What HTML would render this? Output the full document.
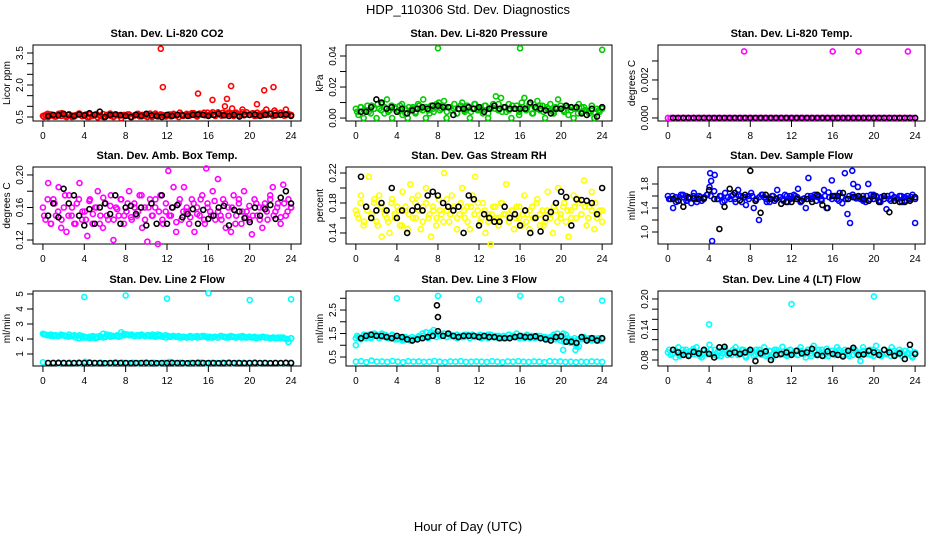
<!DOCTYPE html>
<html><head><meta charset="utf-8"><style>
body{margin:0;background:#fff}
svg{display:block;font-family:"Liberation Sans",sans-serif}
</style></head><body>
<svg id="c" width="936" height="540" viewBox="0 0 936 540">
<rect width="936" height="540" fill="#fff"/>
<text x="468" y="14" text-anchor="middle" font-size="13">HDP_110306  Std. Dev. Diagnostics</text>
<text x="468" y="531" text-anchor="middle" font-size="13">Hour of Day (UTC)</text>
</svg>
<script>
// ---- data ----
const hourTicks=[0,4,8,12,16,20,24];
const co2Col=[0.55,0.6,0.5,0.62,0.58,0.52,0.65,0.55,0.6,0.5,0.63,0.57,0.52,0.6,0.66,0.54,
0.58,0.5,0.62,0.55,0.6,0.48,0.57,0.64,0.52,0.6,0.55,0.5,0.62,0.58,0.45,0.6,
0.56,0.62,0.5,0.58,0.64,0.53,0.6,0.55,0.5,0.66,0.57,0.6,0.52,0.62,0.58,0.55,
0.6,0.53,0.65,0.57,0.5,0.62,0.58,0.6,0.55,0.68,0.6,0.52,0.66,0.62,0.58,0.7,
0.6,0.72,0.55,0.65,0.6,0.7,0.58,0.66,0.62,0.55,0.7,0.6,0.64,0.58,0.72,0.6,
0.66,0.55,0.7,0.62,0.58,0.68,0.6,0.65,0.55,0.7,0.62,0.6,0.66,0.58,0.64,0.6];
const co2Col2=[0.5,0.65,0.57,0.52,0.6,0.68,0.54,0.6,0.5,0.58,0.66,0.55,0.62,0.5,0.57,0.64,0.55,0.5,0.6,0.66,0.52,0.58,0.6,0.55,
0.62,0.5,0.57,0.65,0.53,0.6,0.58,0.5,0.66,0.55,0.6,0.52,0.62,0.58,0.6,0.7,0.55,0.65,0.6,0.68,0.56,0.62,0.7,0.58,
0.66,0.6,0.72,0.56,0.64,0.7,0.6,0.66,0.58,0.72,0.62,0.6,0.68,0.56,0.64,0.7,0.6,0.66,0.58,0.62,0.7,0.56,0.64,0.58];
const co2Blk=[0.55,0.6,0.58,0.65,0.6,0.55,0.62,0.58,0.68,0.6,0.75,0.5,0.6,0.62,0.58,0.55,0.5,0.6,0.55,0.65,0.58,0.55,0.5,0.6,0.55,0.6,0.58,0.55,0.6,0.62,0.6,0.55,0.6,0.65,0.58,0.55,0.6,0.52,0.6,0.6,0.62,0.55,0.6,0.65,0.58,0.6,0.62,0.55];
const co2OutH=[11.4,11.6,15,16.4,17.6,17.8,18.2,18.3,19.3,20.7,21.4,21.6,22.3,22.4,23.5];
const co2OutV=[3.7,1.9,1.6,1.3,1.0,1.35,1.95,0.9,0.85,1.1,1.75,0.85,1.9,0.8,0.85];

const presCol=[0.006,0.002,0.007,0,0.005,0.004,0.008,0.006,0,0.006,0.009,0.003,0.012,0.005,0,0.007,0.004,0.008,0.002,0.006,0,0.005,0.007,0.003,
0.009,0.006,0.012,0,0.005,0.008,0.004,0.007,0.01,0.006,0.011,0,0.007,0.005,0.009,0.003,0.006,0.01,0.004,0.008,0,0.006,0.009,0.005,
0.007,0.003,0.008,0,0.006,0.009,0.014,0.005,0.013,0.007,0.004,0.009,0,0.006,0.008,0.002,0.01,0.013,0.006,0.009,0.003,0.007,0.011,0.005,
0.008,0,0.006,0.009,0.004,0.007,0.012,0.006,0.005,0.008,0.002,0.007,0,0.006,0.009,0.004,0.007,0.005,0.003,0.008,0,0.006,0.004,0.007];
const presCol2=[0.004,0.007,0.005,0.008,0.003,0.006,0.009,0.005,0.007,0.004,0.008,0.006,0.005,0.009,0.003,0.007,0.006,0.004,0.008,0.005,0.007,0.003,0.006,0.009,
0.005,0.008,0.004,0.007,0.006,0.003,0.008,0.005,0.007,0.004,0.009,0.006,0.005,0.008,0.003,0.007,0.006,0.009,0.004,0.007,0.005,0.008,0.006,0.004,
0.007,0.005,0.009,0.003,0.006,0.008,0.004,0.007,0.005,0.003,0.006,0.008,0.004,0.007,0.005,0.006,0.003,0.007,0.005,0.004,0.006,0.003,0.005,0.006];
const presBlk=[0.004,0.004,0.007,0.012,0.01,0.006,0.007,0.004,0.006,0.003,0.005,0.006,0.007,0.006,0.008,0.008,0.007,0.007,0.002,0.006,0.006,0.007,0.006,0.007,0.004,0.006,0.008,0.006,0.007,0.006,0.006,0.006,0.006,0.01,0.007,0.006,0.005,0.003,0.006,0.006,0.008,0.007,0.007,0.003,0.002,0.006,0.001,0.007];
const presOutH=[8,16,24];
const presOutV=[0.045,0.045,0.044];

const tempCol=[0,0,0,0,0,0,0,0,0,0,0,0,0,0,0,0,0,0,0,0,0,0,0,0,0,0,0,0,0,0,0,0,0,0,0,0,0,0,0,0,0,0,0,0,0,0,0,0,
0,0,0,0,0,0,0,0,0,0,0,0,0,0,0,0,0,0,0,0,0,0,0,0,0,0,0,0,0,0,0,0,0,0,0,0,0,0,0,0,0,0,0,0,0,0,0,0];
const tempBlk=[0,0,0,0,0,0,0,0,0,0,0,0,0,0,0,0,0,0,0,0,0,0,0,0,0,0,0,0,0,0,0,0,0,0,0,0,0,0,0,0,0,0,0,0,0,0,0,0];
const tempOutH=[7.4,16,18.5,23.3];
const tempOutV=[0.0035,0.0035,0.0035,0.0035];

const ambCol=[0.16,0.145,0.19,0.14,0.17,0.15,0.185,0.135,0.16,0.13,0.175,0.15,0.14,0.165,0.19,0.145,
0.155,0.125,0.17,0.14,0.16,0.18,0.15,0.135,0.165,0.145,0.175,0.12,0.16,0.15,0.17,0.14,
0.155,0.18,0.145,0.165,0.15,0.175,0.135,0.16,0.118,0.17,0.15,0.16,0.115,0.175,0.14,0.155,
0.205,0.15,0.185,0.13,0.165,0.145,0.185,0.155,0.14,0.17,0.13,0.16,0.15,0.175,0.14,0.165,
0.155,0.18,0.145,0.195,0.15,0.17,0.135,0.16,0.13,0.175,0.15,0.165,0.14,0.18,0.155,0.145,
0.127,0.17,0.15,0.16,0.135,0.165,0.145,0.175,0.185,0.155,0.165,0.14,0.188,0.15,0.17,0.16];
const ambCol2=[0.15,0.17,0.14,0.165,0.155,0.145,0.175,0.15,0.16,0.14,0.17,0.155,0.145,0.168,0.152,0.16,0.14,0.172,0.15,0.162,0.145,0.158,0.17,0.15,
0.165,0.148,0.16,0.155,0.175,0.145,0.16,0.15,0.17,0.155,0.145,0.165,0.15,0.16,0.142,0.17,0.155,0.16,0.148,0.165,0.152,0.17,0.145,0.16,
0.15,0.168,0.155,0.145,0.165,0.15,0.16,0.14,0.17,0.155,0.148,0.162,0.15,0.165,0.145,0.16,0.155,0.17,0.15,0.16,0.148,0.165,0.155,0.16];
const ambBlk=[0.15,0.165,0.148,0.183,0.165,0.175,0.15,0.138,0.158,0.14,0.16,0.165,0.152,0.175,0.14,0.16,0.162,0.152,0.16,0.138,0.165,0.14,0.175,0.14,0.16,0.163,0.148,0.152,0.158,0.14,0.157,0.146,0.15,0.16,0.162,0.138,0.157,0.155,0.147,0.142,0.16,0.15,0.158,0.163,0.146,0.172,0.18,0.165];
const ambOutH=[15.8];
const ambOutV=[0.208];

const rhCol=[0.17,0.16,0.19,0.15,0.175,0.215,0.165,0.18,0.155,0.19,0.135,0.17,0.16,0.14,0.185,0.165,
0.175,0.15,0.195,0.17,0.145,0.205,0.16,0.18,0.19,0.145,0.175,0.2,0.16,0.135,0.17,0.15,
0.185,0.165,0.22,0.17,0.155,0.19,0.175,0.145,0.165,0.2,0.16,0.175,0.145,0.19,0.215,0.17,
0.155,0.18,0.14,0.165,0.125,0.175,0.16,0.15,0.18,0.165,0.205,0.155,0.17,0.145,0.175,0.16,
0.15,0.19,0.165,0.145,0.175,0.16,0.185,0.15,0.17,0.155,0.195,0.165,0.14,0.17,0.2,0.16,
0.175,0.155,0.135,0.17,0.19,0.16,0.18,0.165,0.21,0.15,0.175,0.195,0.145,0.16,0.17,0.155];
const rhCol2=[0.165,0.18,0.155,0.17,0.16,0.185,0.15,0.175,0.165,0.155,0.18,0.16,0.17,0.15,0.175,0.165,0.185,0.16,0.17,0.155,0.18,0.165,0.175,0.16,
0.17,0.155,0.185,0.165,0.175,0.16,0.18,0.17,0.155,0.175,0.165,0.18,0.16,0.17,0.155,0.165,0.175,0.16,0.18,0.165,0.155,0.17,0.16,0.175,
0.165,0.155,0.17,0.16,0.18,0.165,0.15,0.17,0.16,0.175,0.155,0.165,0.18,0.17,0.16,0.175,0.185,0.165,0.175,0.16,0.17,0.18,0.165,0.17];
const rhBlk=[0.215,0.175,0.16,0.17,0.18,0.17,0.2,0.16,0.17,0.14,0.17,0.175,0.17,0.19,0.195,0.19,0.18,0.175,0.17,0.175,0.14,0.19,0.185,0.15,0.165,0.16,0.155,0.155,0.175,0.16,0.165,0.15,0.17,0.14,0.16,0.142,0.16,0.168,0.18,0.195,0.188,0.15,0.185,0.184,0.183,0.18,0.165,0.2];
const rhOutH=[];
const rhOutV=[];

const sampCol=[1.6,1.55,1.4,1.58,1.52,1.62,1.5,1.6,1.56,1.48,1.65,1.55,1.6,1.52,1.58,1.62,1.75,0.85,1.95,1.55,1.6,1.5,1.65,1.58,
1.55,1.62,1.5,1.7,1.6,1.58,1.45,1.6,1.65,1.4,1.55,1.2,1.62,1.58,1.5,1.55,1.6,1.52,1.7,1.58,1.55,1.62,1.5,1.6,
1.56,1.6,1.72,1.5,1.55,1.4,1.9,1.6,1.58,1.52,1.6,1.55,1.7,1.4,1.58,1.86,1.6,1.55,1.65,1.48,1.98,1.3,1.15,1.62,
1.58,1.75,1.55,1.6,1.5,1.8,1.62,1.55,1.6,1.52,1.58,1.6,1.38,1.55,1.62,1.58,1.55,1.6,1.5,1.58,1.6,1.55,1.62,1.15];
const sampCol2=[1.55,1.6,1.5,1.58,1.62,1.52,1.56,1.6,1.5,1.58,1.55,1.62,1.6,1.68,1.55,1.6,1.52,1.58,1.6,1.55,1.62,1.5,1.58,1.55,
1.6,1.52,1.58,1.62,1.55,1.5,1.6,1.56,1.58,1.52,1.6,1.55,1.62,1.58,1.5,1.56,1.6,1.55,1.62,1.58,1.52,1.6,1.66,1.55,
1.6,1.52,1.58,1.55,1.6,1.62,1.56,1.58,1.52,1.6,1.55,1.62,1.58,1.5,1.55,1.6,1.52,1.58,1.55,1.6,1.52,1.56,1.58,1.55];
const sampBlk=[1.55,1.52,1.42,1.58,1.56,1.55,1.56,1.7,1.55,1.05,1.42,1.72,1.65,1.53,1.62,2.02,1.52,1.32,1.62,1.55,1.55,1.47,1.5,1.5,1.55,1.52,1.55,1.5,1.62,1.45,1.4,1.6,1.6,1.65,1.55,1.58,1.6,1.55,1.52,1.6,1.5,1.6,1.33,1.52,1.5,1.5,1.52,1.58];
const sampOutH=[4.1,4.2,17.9,18];
const sampOutV=[1.98,1.85,2.02,1.8];

const l2Hi=[2.35,2.3,2.25,2.3,2.2,2.25,2.2,2.3,2.25,2.2,2.3,2.2,2.25,2.2,2.25,2.2,2.15,2.1,2.05,2.1,2.05,2.1,2.15,2.1,
2.15,2.2,2.15,2.2,2.2,2.15,2.45,2.35,2.3,2.25,2.3,2.2,2.25,2.2,2.25,2.2,2.25,2.2,2.3,2.25,2.3,2.25,2.2,2.25,
2.2,2.15,2.2,2.15,2.2,2.1,2.15,2.1,2.15,2.1,2.15,2.2,2.15,2.2,2.15,2.1,2.15,2.1,2.15,2.1,2.2,2.15,2.1,2.15,
2.2,2.15,2.1,2.15,2.1,2.15,2.1,2.15,2.1,2.15,2.1,2.1,2.15,2.1,2.1,2.05,2.1,2.05,2.1,2.05,2.1,2.0,1.8,2.05];
const l2Hi2=[2.3,2.25,2.2,2.25,2.2,2.25,2.2,2.15,2.2,2.1,2.05,2.1,2.1,2.15,2.2,2.15,2.2,2.35,2.3,2.25,2.2,2.25,2.2,2.25,
2.3,2.25,2.2,2.25,2.3,2.2,2.25,2.2,2.15,2.2,2.15,2.1,2.15,2.2,2.15,2.1,2.15,2.1,2.2,2.15,2.1,2.15,2.2,2.15,
2.1,2.15,2.1,2.2,2.15,2.1,2.15,2.1,2.15,2.2,2.1,2.15,2.1,2.05,2.1,2.15,2.1,2.05,2.1,2.05,2.1,2.05,2.0,2.05];
const l2Lo=[0.45,0.4,0.42,0.38,0.41,0.43,0.4,0.39,0.48,0.41,0.4,0.42,0.38,0.4,0.41,0.43,0.4,0.42,0.39,0.41,0.4,0.42,0.38,0.41,0.47,0.4,0.42,0.39,0.41,0.4,0.43,0.38,0.41,0.4,0.42,0.4,0.39,0.41,0.42,0.4,0.41,0.39,0.42,0.4,0.41,0.38,0.4,0.42];
const l2Blk=[0.4,0.4,0.41,0.4,0.39,0.4,0.41,0.4,0.42,0.4,0.4,0.39,0.4,0.41,0.4,0.4,0.39,0.4,0.4,0.41,0.4,0.39,0.4,0.4,0.41,0.4,0.4,0.39,0.4,0.41,0.4,0.4,0.4,0.39,0.4,0.41,0.4,0.4,0.39,0.4,0.41,0.4,0.4,0.39,0.4,0.4,0.41,0.4];
const l2OutH=[4,8,12,16,20,24];
const l2OutV=[4.8,4.9,4.7,5.05,4.6,4.65];

const l3Hi=[1.3,1.35,1.25,1.4,1.3,1.45,1.35,1.4,1.45,1.3,1.5,1.35,1.4,1.3,1.45,1.35,1.25,1.3,1.2,1.25,1.3,1.2,1.25,1.3,
1.35,1.3,1.4,1.35,1.3,1.55,1.65,1.5,1.45,1.4,1.5,1.35,1.45,1.4,1.35,1.45,1.4,1.35,1.45,1.4,1.3,1.45,1.35,1.4,
1.45,1.35,1.4,1.3,1.45,1.35,1.4,1.3,1.35,1.4,1.3,1.45,1.35,1.4,1.5,1.35,1.4,1.3,1.45,1.35,1.4,1.3,1.35,1.4,
1.3,1.35,1.25,1.3,1.35,1.25,1.3,1.35,1.5,1.45,1.2,1.1,1.2,1.05,0.95,1.25,1.35,1.25,1.3,1.2,1.3,1.25,1.2,1.3];
const l3Hi2=[1.4,1.3,1.45,1.35,1.3,1.5,1.4,1.35,1.45,1.3,1.4,1.25,1.3,1.25,1.35,1.3,1.35,1.3,1.4,1.5,1.55,1.45,1.4,1.35,
1.45,1.4,1.35,1.45,1.4,1.3,1.4,1.35,1.45,1.4,1.35,1.4,1.3,1.35,1.45,1.4,1.35,1.4,1.3,1.35,1.45,1.4,1.35,1.3,
1.35,1.4,1.3,1.35,1.4,1.3,1.35,1.3,1.35,1.45,1.5,1.2,1.15,1.3,1.25,1.3,1.25,1.35,1.3,1.25,1.3,1.25,1.3,1.25];
const l3Lo=[0.3,0.32,0.28,0.35,0.3,0.31,0.29,0.33,0.3,0.28,0.32,0.3,0.31,0.29,0.3,0.33,0.3,0.28,0.31,0.3,0.32,0.29,0.3,0.31,0.3,0.29,0.32,0.3,0.28,0.31,0.3,0.32,0.3,0.29,0.31,0.3,0.28,0.32,0.3,0.31,0.29,0.3,0.28,0.3,0.29,0.31,0.3,0.29];
const l3Blk=[1.3,1.4,1.45,1.4,1.4,1.35,1.3,1.4,1.35,1.25,1.2,1.25,1.3,1.35,1.4,1.6,1.4,1.5,1.4,1.35,1.4,1.4,1.4,1.35,1.4,1.35,1.35,1.3,1.3,1.3,1.35,1.4,1.35,1.35,1.38,1.3,1.25,1.2,1.35,1.38,1.15,1.15,1.1,1.35,1.2,1.3,1.2,1.3];
const l3OutH=[0,4,8,12,16,20,24,20.2,21.4,21.5];
const l3OutV=[1.0,3.0,3.1,2.95,3.1,2.95,2.9,0.8,0.8,0.95];
const l3BlkOutH=[7.9,8];
const l3BlkOutV=[2.7,2.2];

const l4Col=[0.095,0.09,0.1,0.085,0.105,0.09,0.095,0.1,0.088,0.098,0.092,0.105,0.09,0.085,0.1,0.095,0.11,0.09,0.1,0.088,0.098,0.093,0.102,0.09,
0.095,0.1,0.105,0.09,0.092,0.1,0.085,0.098,0.095,0.088,0.1,0.095,0.09,0.105,0.092,0.098,0.085,0.1,0.095,0.092,0.106,0.09,0.098,0.1,
0.092,0.098,0.09,0.105,0.095,0.085,0.1,0.093,0.108,0.09,0.1,0.095,0.088,0.102,0.093,0.098,0.09,0.105,0.095,0.088,0.1,0.092,0.098,0.09,
0.1,0.095,0.078,0.105,0.092,0.098,0.09,0.1,0.108,0.095,0.088,0.1,0.092,0.098,0.105,0.09,0.095,0.1,0.088,0.098,0.092,0.1,0.085,0.095];
const l4Col2=[0.1,0.092,0.098,0.088,0.1,0.095,0.09,0.102,0.094,0.088,0.098,0.092,0.1,0.09,0.096,0.088,0.1,0.094,0.09,0.098,0.092,0.1,0.088,0.095,
0.098,0.09,0.1,0.093,0.088,0.097,0.092,0.1,0.09,0.096,0.088,0.1,0.094,0.09,0.098,0.092,0.1,0.088,0.096,0.09,0.1,0.093,0.088,0.098,
0.092,0.1,0.09,0.096,0.088,0.1,0.094,0.09,0.098,0.092,0.1,0.088,0.096,0.09,0.1,0.093,0.088,0.098,0.092,0.096,0.09,0.094,0.088,0.092];
const l4Blk=[0.1,0.095,0.09,0.088,0.096,0.093,0.1,0.092,0.085,0.105,0.106,0.093,0.095,0.092,0.095,0.1,0.078,0.093,0.097,0.08,0.09,0.092,0.095,0.09,0.098,0.093,0.095,0.102,0.09,0.088,0.097,0.092,0.09,0.087,0.098,0.104,0.09,0.091,0.098,0.095,0.09,0.1,0.095,0.088,0.093,0.082,0.11,0.092];
const l4OutH=[4,12,20];
const l4OutV=[0.15,0.19,0.205];

// ---- layout ----
const NS="http://www.w3.org/2000/svg";
const svg=document.getElementById('c');
function mk(tag,attrs,parent){const e=document.createElementNS(NS,tag);for(const k in attrs)e.setAttribute(k,attrs[k]);(parent||svg).appendChild(e);return e;}
const cols=[[33,301],[346,612],[658,925]];
const rows=[[45,121],[167,244],[291,366]];
const panels=[
 {name:'co2',title:'Stan. Dev. Li-820 CO2',yl:'Licor ppm',c:0,r:0,dom:[0.3125,3.875],ticks:[0.5,1,1.5,2,2.5,3,3.5],labs:[0.5,2.0,3.5],fmt:1,col:'#ff0000',cs:[co2Col,co2Col2],bs:[co2Blk],oh:co2OutH,ov:co2OutV},
 {name:'pressure',title:'Stan. Dev. Li-820 Pressure',yl:'kPa',c:1,r:0,dom:[-0.0019,0.0471],ticks:[0,0.01,0.02,0.03,0.04],labs:[0,0.02,0.04],fmt:2,col:'#00cc00',cs:[presCol,presCol2],bs:[presBlk],oh:presOutH,ov:presOutV},
 {name:'temp',title:'Stan. Dev. Li-820 Temp.',yl:'degrees C',c:2,r:0,dom:[-0.00016,0.00384],ticks:[0,0.001,0.002,0.003],labs:[0,0.002],fmt:3,col:'#ff00ff',cs:[tempCol],bs:[tempBlk],oh:tempOutH,ov:tempOutV},
 {name:'amb-temp',title:'Stan. Dev. Amb. Box Temp.',yl:'degrees C',c:0,r:1,dom:[0.1151,0.2098],ticks:[0.12,0.14,0.16,0.18,0.2],labs:[0.12,0.16,0.2],fmt:2,col:'#ff00ff',cs:[ambCol,ambCol2],bs:[ambBlk],oh:ambOutH,ov:ambOutV},
 {name:'rh',title:'Stan. Dev. Gas Stream RH',yl:'percent',c:1,r:1,dom:[0.1253,0.228],ticks:[0.14,0.16,0.18,0.2,0.22],labs:[0.14,0.18,0.22],fmt:2,col:'#ffff00',cs:[rhCol,rhCol2],bs:[rhBlk],oh:rhOutH,ov:rhOutV},
 {name:'sample-flow',title:'Stan. Dev. Sample Flow',yl:'ml/min',c:2,r:1,dom:[0.8,2.083],ticks:[1,1.2,1.4,1.6,1.8],labs:[1.0,1.4,1.8],fmt:1,col:'#0000ff',cs:[sampCol,sampCol2],bs:[sampBlk],oh:sampOutH,ov:sampOutV},
 {name:'line2-flow',title:'Stan. Dev. Line 2 Flow',yl:'ml/min',c:0,r:2,dom:[0.2,5.2],ticks:[1,2,3,4,5],labs:[1,2,3,4,5],fmt:0,col:'#00ffff',cs:[l2Hi,l2Hi2,l2Lo],bs:[l2Blk],oh:l2OutH,ov:l2OutV},
 {name:'line3-flow',title:'Stan. Dev. Line 3 Flow',yl:'ml/min',c:1,r:2,dom:[0.117,3.31],ticks:[0.5,1,1.5,2,2.5,3],labs:[0.5,1.5,2.5],fmt:1,col:'#00ffff',cs:[l3Hi,l3Hi2,l3Lo],bs:[l3Blk],oh:l3OutH,ov:l3OutV,bh:l3BlkOutH,bv:l3BlkOutV},
 {name:'line4-flow',title:'Stan. Dev. Line 4 (LT) Flow',yl:'ml/min',c:2,r:2,dom:[0.0682,0.2157],ticks:[0.08,0.1,0.12,0.14,0.16,0.18,0.2],labs:[0.08,0.14,0.2],fmt:2,col:'#00ffff',cs:[l4Col,l4Col2],bs:[l4Blk],oh:l4OutH,ov:l4OutV}
];
panels.forEach(p=>{
 const [L,R]=cols[p.c],[T,B]=rows[p.r];
 const g=mk('g',{});
 
 
 const xs=h=>L+(h+0.96)/25.92*(R-L);
 const ys=v=>B-(v-p.dom[0])/(p.dom[1]-p.dom[0])*(B-T);
 const t=mk('text',{x:(L+R)/2,y:T-8,'text-anchor':'middle','font-size':11,'font-weight':'bold'},g);
 t.textContent=p.title;
 
 
 const xa=mk('g',{stroke:'#000','stroke-width':1},g);
 
 
 mk('line',{x1:xs(0),x2:xs(24),y1:B,y2:B},xa);
 hourTicks.forEach(h=>{mk('line',{x1:xs(h),x2:xs(h),y1:B,y2:B+6},xa);
  const lt=mk('text',{x:xs(h),y:B+18,'text-anchor':'middle','font-size':10,stroke:'none'},xa);lt.textContent=h;
  
  });
 const ya=mk('g',{stroke:'#000','stroke-width':1},g);
 
 
 mk('line',{x1:L,x2:L,y1:ys(p.ticks[0]),y2:ys(p.ticks[p.ticks.length-1])},ya);
 p.ticks.forEach(v=>mk('line',{x1:L-6,x2:L,y1:ys(v),y2:ys(v)},ya));
 p.labs.forEach(v=>{const y=ys(v),x=L-10;
  const lt=mk('text',{x:x,y:y,'text-anchor':'middle','font-size':10,stroke:'none',transform:`rotate(-90 ${x} ${y})`},ya);
  lt.textContent=v.toFixed(p.fmt);
  
  });
 const yx=L-23,yy=(T+B)/2;
 const yt=mk('text',{x:yx,y:yy,'text-anchor':'middle','font-size':10,transform:`rotate(-90 ${yx} ${yy})`},g);
 yt.textContent=p.yl;
 
 
 const bx=mk('rect',{x:L,y:T,width:R-L,height:B-T,fill:'none',stroke:'#000','stroke-width':1},g);
 
 
 const pts=mk('g',{fill:'none','stroke-width':1.6},g);
 
 
 function dot(h,v,color){const c=mk('circle',{cx:xs(h),cy:ys(v),r:2.5,stroke:color},pts);
  
  }
 p.cs.forEach((arr,k)=>{const off=k%2?0.12:0;arr.forEach((v,i)=>dot(off+i*(24-off)/(arr.length-1),v,p.col));});
 p.oh.forEach((h,i)=>dot(h,p.ov[i],p.col));
 p.bs.forEach(arr=>arr.forEach((v,i)=>dot(0.5+i*23.5/(arr.length-1),v,'#000')));
 if(p.bh)p.bh.forEach((h,i)=>dot(h,p.bv[i],'#000'));
});
</script>
</body></html>
